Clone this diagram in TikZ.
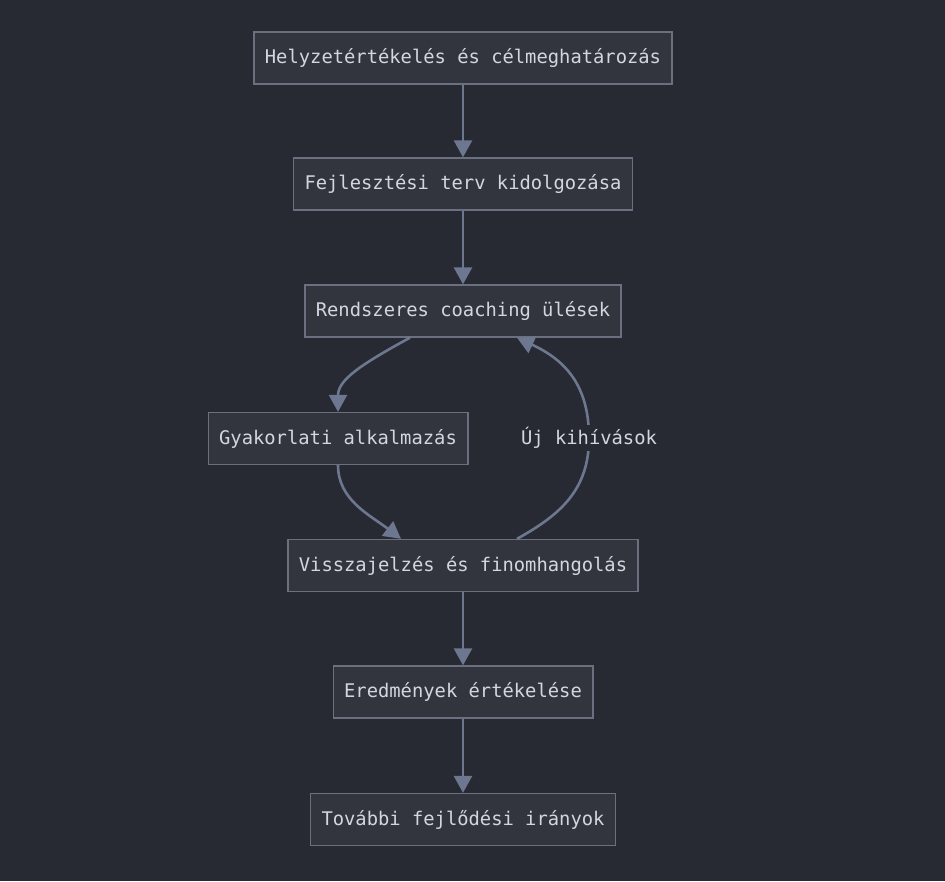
\documentclass[tikz,border=0pt]{standalone}
\usepackage{fontspec}
\setmonofont{DejaVu Sans Mono}
\usetikzlibrary{arrows.meta}
\definecolor{bg}{HTML}{282A33}
\definecolor{boxfill}{HTML}{32353E}
\definecolor{boxline}{HTML}{6B7080}
\definecolor{edge}{HTML}{6E7790}
\definecolor{txt}{HTML}{D2D7DF}
\tikzset{
  stepbox/.style={draw=boxline, line width=1.3pt, fill=boxfill, minimum height=52pt, inner xsep=11pt, text=txt, font=\ttfamily\fontsize{18.8pt}{22pt}\selectfont},
  conn/.style={draw=edge, line width=2.6pt, -{Triangle[length=17pt,width=18pt]}},
  lbl/.style={text=txt, fill=bg, inner sep=2pt, font=\ttfamily\fontsize{18.8pt}{22pt}\selectfont}
}
\begin{document}
\begin{tikzpicture}[x=1pt,y=-1pt]
\fill[bg] (0,0) rectangle (945,881);
\useasboundingbox (0,0) rectangle (945,881);
\node[stepbox] (n1) at (463,58) {Helyzetértékelés és célmeghatározás};
\node[stepbox] (n2) at (463,184) {Fejlesztési terv kidolgozása};
\node[stepbox] (n3) at (463,311) {Rendszeres coaching ülések};
\node[stepbox] (n4) at (338,438.5) {Gyakorlati alkalmazás};
\node[stepbox] (n5) at (463,565.5) {Visszajelzés és finomhangolás};
\node[stepbox] (n6) at (463,692) {Eredmények értékelése};
\node[stepbox] (n7) at (463,819.5) {További fejlődési irányok};
\draw[conn] (n1.south) -- (n2.north);
\draw[conn] (n2.south) -- (n3.north);
\draw[conn] ([xshift=-53pt]n3.south) .. controls (360,365) and (338,380) .. (n4.north);
\draw[conn] (n4.south) .. controls (338,500) and (370,515) .. ([xshift=-62pt]n5.north);
\draw[conn] ([xshift=54pt]n5.north) .. controls (560,515) and (589,490) .. (589,438) .. controls (589,385) and (565,360) .. ([xshift=54pt]n3.south);
\draw[conn] (n5.south) -- (n6.north);
\draw[conn] (n6.south) -- (n7.north);
\node[lbl] (l1) at (589,438) {Új kihívások};
\end{tikzpicture}
\end{document}
